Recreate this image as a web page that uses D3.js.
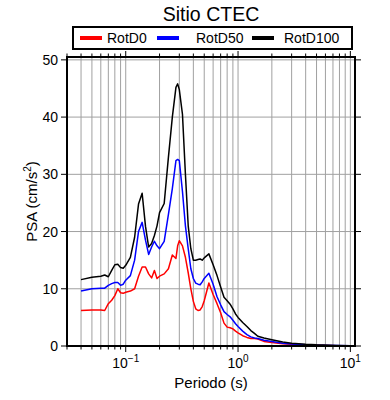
<!DOCTYPE html>
<html>
<head>
<meta charset="utf-8">
<script src="https://cdn.jsdelivr.net/npm/d3@7"></script>
<style>
  body { margin: 0; background: #fff; }
  text { font-family: "Liberation Sans", Arial, sans-serif; fill: #000; }
</style>
</head>
<body>
<svg width="390" height="400"></svg>
<script>
// periods (s)
var periods = [0.04, 0.05, 0.06, 0.065, 0.07, 0.075, 0.08, 0.085, 0.09, 0.095,
  0.1, 0.11, 0.12, 0.13, 0.14, 0.15, 0.16, 0.17, 0.18, 0.19,
  0.2, 0.22, 0.24, 0.26, 0.28, 0.29, 0.3, 0.32, 0.34, 0.36, 0.38,
  0.4, 0.42, 0.44, 0.46, 0.48, 0.5, 0.55, 0.6, 0.65, 0.7,
  0.75, 0.8, 0.85, 0.9, 0.95, 1.0, 1.1, 1.2, 1.3, 1.4,
  1.5, 1.7, 2.0, 2.5, 3.0, 4.0, 5.0, 7.5, 10];

var rotD0 = [6.2, 6.3, 6.3, 6.2, 7.4, 8.0, 8.8, 10.0, 9.3, 9.2,
  9.4, 9.6, 10.0, 12.2, 13.8, 13.8, 12.6, 11.9, 13.2, 11.8,
  12.2, 12.6, 13.5, 15.9, 15.3, 17.5, 18.4, 17.5, 15.5, 12.8, 10.0,
  7.8, 6.5, 6.2, 6.3, 6.9, 7.9, 11.0, 9.0, 7.4, 5.8,
  4.0, 3.3, 3.2, 3.0, 2.6, 2.3, 1.8, 1.5, 1.3, 1.3,
  1.2, 0.8, 0.6, 0.4, 0.3, 0.18, 0.12, 0.06, 0.04];

var rotD50 = [9.6, 10.0, 10.1, 10.1, 10.6, 10.9, 11.1, 11.1, 10.6, 10.8,
  11.5, 12.3, 15.0, 20.0, 21.6, 18.5, 16.0, 17.3, 18.3, 17.5,
  17.0, 18.3, 23.0, 27.5, 32.4, 32.6, 32.4, 27.0, 21.0, 17.0, 13.5,
  11.8, 11.0, 10.8, 10.7, 11.2, 11.8, 12.7, 10.8, 8.6, 7.2,
  6.0, 5.5, 5.1, 4.5, 3.9, 3.4, 2.6, 2.0, 1.6, 1.4,
  1.3, 1.0, 0.8, 0.5, 0.35, 0.2, 0.15, 0.08, 0.05];

var rotD100 = [11.6, 12.0, 12.2, 12.4, 12.1, 13.2, 14.2, 14.3, 13.7, 13.6,
  14.1, 15.5, 19.0, 24.8, 26.7, 20.9, 17.3, 17.9, 19.3, 21.0,
  23.3, 24.9, 33.0, 40.0, 45.2, 45.8, 44.8, 40.5, 30.0, 21.0, 17.0,
  15.0, 15.0, 15.1, 15.2, 15.0, 15.4, 16.1, 14.2, 12.3, 10.3,
  8.5, 7.9, 7.3, 6.5, 5.6, 5.0, 4.1, 3.4, 2.7, 2.2,
  1.7, 1.4, 1.1, 0.7, 0.5, 0.3, 0.2, 0.1, 0.05];

var seriesNames = ["RotD0", "RotD50", "RotD100"];
var seriesColors = ["#ff0000", "#0000ff", "#000000"];
var yTicks = [0, 10, 20, 30, 40, 50];
var xMajor = [0.1, 1, 10];

const svg = d3.select("svg");
const plotLeft = 67, plotRight = 355, plotTop = 57, plotBottom = 346;

let x = d3.scaleLog().domain([0.03, 11]).range([plotLeft, plotRight]);
let y = d3.scaleLinear().domain([0, 50.5]).range([plotBottom, plotTop]);

// minor positions for grid
var xMinor = [];
[0.01, 0.1, 1, 10].forEach(function(dec) {
  for (let k = 1; k <= 9; k++) {
    var v = +(dec * k).toPrecision(6);
    if (v >= 0.03 && v <= 11) xMinor.push(v);
  }
});

// grid
const grid = svg.append("g");
grid.selectAll("line.vx").data(xMinor).enter().append("line")
  .attr("x1", d => x(d)).attr("x2", d => x(d))
  .attr("y1", plotTop).attr("y2", plotBottom)
  .attr("stroke", "#a0a0a0").attr("stroke-width", 1);
grid.selectAll("line.hy").data(yTicks.slice(1)).enter().append("line")
  .attr("x1", plotLeft).attr("x2", plotRight)
  .attr("y1", d => y(d)).attr("y2", d => y(d))
  .attr("stroke", "#a0a0a0").attr("stroke-width", 1);

// curves
const line = d3.line()
  .x((d, i) => x(periods[i]))
  .y(d => y(d));

[rotD0, rotD50, rotD100].forEach(function(vals, i) {
  svg.append("path")
    .datum(vals)
    .attr("fill", "none")
    .attr("stroke", seriesColors[i])
    .attr("stroke-width", 1.5)
    .attr("stroke-linejoin", "round")
    .attr("d", line);
});

// ticks on all four sides (outward)
const ticksG = svg.append("g").attr("stroke", "#000").attr("stroke-width", 1);
xMinor.forEach(function(v) {
  var major = Math.abs(Math.log10(v) - Math.round(Math.log10(v))) < 1e-9;
  var len = major ? 6 : 3.5;
  ticksG.append("line").attr("x1", x(v)).attr("x2", x(v)).attr("y1", plotBottom).attr("y2", plotBottom + len);
  ticksG.append("line").attr("x1", x(v)).attr("x2", x(v)).attr("y1", plotTop).attr("y2", plotTop - len);
});
yTicks.forEach(function(v) {
  ticksG.append("line").attr("x1", plotLeft).attr("x2", plotLeft - 6).attr("y1", y(v)).attr("y2", y(v));
  ticksG.append("line").attr("x1", plotRight).attr("x2", plotRight + 6).attr("y1", y(v)).attr("y2", y(v));
});

// frame
svg.append("rect")
  .attr("x", plotLeft).attr("y", plotTop)
  .attr("width", plotRight - plotLeft).attr("height", plotBottom - plotTop)
  .attr("fill", "none").attr("stroke", "#000").attr("stroke-width", 2);

// y tick labels
svg.selectAll("text.yl").data(yTicks).enter().append("text")
  .attr("x", plotLeft - 9).attr("y", d => y(d) + 5)
  .attr("text-anchor", "end").attr("font-size", "14px")
  .text(d => d);

// x tick labels 10^n
xMajor.forEach(function(v) {
  var p = Math.round(Math.log10(v));
  var t = svg.append("text")
    .attr("x", x(v)).attr("y", 368)
    .attr("text-anchor", "middle").attr("font-size", "14px");
  t.append("tspan").text("10");
  t.append("tspan").attr("dy", -6).attr("font-size", "10px").text(p < 0 ? "\u2212" + (-p) : p);
});

// axis titles
svg.append("text")
  .attr("x", (plotLeft + plotRight) / 2).attr("y", 388)
  .attr("text-anchor", "middle").attr("font-size", "15px")
  .text("Periodo (s)");

const yl = svg.append("text")
  .attr("transform", "translate(37," + ((plotTop + plotBottom) / 2) + ") rotate(-90)")
  .attr("text-anchor", "middle").attr("font-size", "15px");
yl.append("tspan").text("PSA (cm/s");
yl.append("tspan").attr("dy", -6).attr("font-size", "10px").text("2");
yl.append("tspan").attr("dy", 6).text(")");

// title
svg.append("text")
  .attr("x", 211).attr("y", 21)
  .attr("text-anchor", "middle").attr("font-size", "19.5px")
  .text("Sitio CTEC");

// legend
svg.append("rect")
  .attr("x", 73).attr("y", 27).attr("width", 279).attr("height", 22)
  .attr("fill", "#fff").attr("stroke", "#000").attr("stroke-width", 2);
var legX = [80, 157, 252];
var legTextX = [107, 196, 284];
seriesNames.forEach(function(n, i) {
  svg.append("line")
    .attr("x1", legX[i]).attr("x2", legX[i] + 22)
    .attr("y1", 38).attr("y2", 38)
    .attr("stroke", seriesColors[i]).attr("stroke-width", 4);
  svg.append("text")
    .attr("x", legTextX[i]).attr("y", 43)
    .attr("font-size", "14px")
    .text(n);
});
</script>
</body>
</html>
